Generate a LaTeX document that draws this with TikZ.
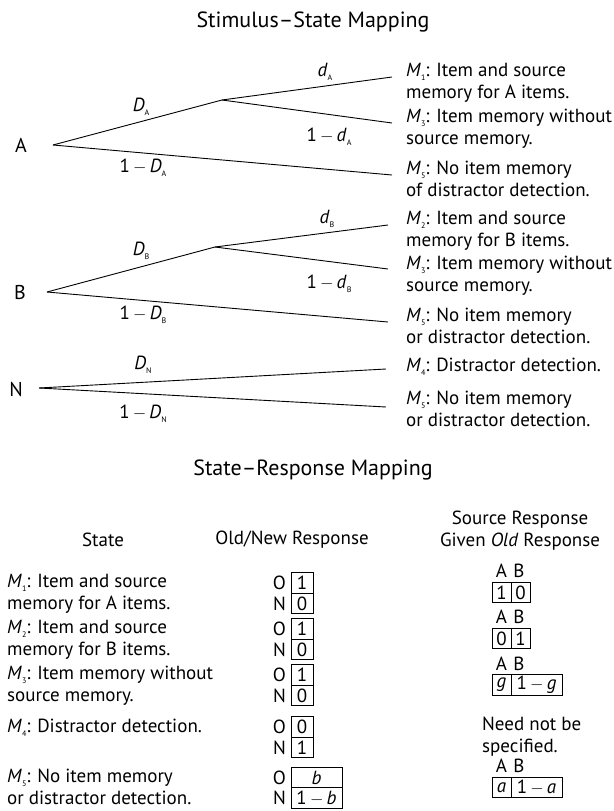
\documentclass[tikz,border=0pt]{standalone}
\usepackage{fontspec}
\setmainfont{PT Sans}
\usetikzlibrary{positioning}
\newcommand\St[1]{\textit{M}\raisebox{-0.4ex}{\fontsize{8}{8}\selectfont #1}}
\newcommand\Prb[2]{\textit{#1}\raisebox{-0.45ex}{\fontsize{8}{8}\selectfont #2}}
\newcommand\mn{\,$-$\,}
\begin{document}
\begin{tikzpicture}[x=1pt,y=-1pt,
  body/.style={font=\fontsize{19}{22}\selectfont, inner sep=0pt},
  desc/.style={body, align=left, anchor=west},
  head/.style={font=\fontsize{22}{26}\selectfont, inner sep=0pt},
  root/.style={font=\fontsize{20}{24}\selectfont, inner sep=0pt},
  branch/.style={line width=0.9pt},
  cell/.style={draw, line width=0.8pt, body, minimum height=20.5pt, minimum width=22pt, inner sep=0pt, outer sep=0pt},
  abcell/.style={cell, minimum width=19pt},
  tag/.style={body, anchor=east},
  colhead/.style={body, anchor=base}]
\useasboundingbox (0,0) rectangle (613,811);

% ---------- stimulus-state trees ----------
\node[head] (t1) at (313,22) {Stimulus–State Mapping};

% tree for A
\node[root] (A) at (21,145) {A};
\coordinate (ar) at (53,145);
\coordinate (ab) at (222,100);
\coordinate (a1) at (392,77);
\coordinate (a3) at (392,123);
\coordinate (a5) at (392,175);
\draw[branch] (ar) -- (ab) -- (a1);
\draw[branch] (ab) -- (a3);
\draw[branch] (ar) -- (a5);
\node[body] (lDA) at (141,107) {\Prb{D}{A}};
\node[body] (lda) at (325,72) {\Prb{d}{A}};
\node[body] (lnda) at (329,137) {1\mn\Prb{d}{A}};
\node[body] (lnDA) at (143,168) {1\mn\Prb{D}{A}};
\node[desc] (sa1) at (406,83) {\St{1}: Item and source\\memory for A items.};
\node[desc] (sa3) at (406,129) {\St{3}: Item memory without\\source memory.};
\node[desc] (sa5) at (406,179) {\St{5}: No item memory\\of distractor detection.};

% tree for B
\node[root] (B) at (20,292) {B};
\coordinate (br) at (47,292);
\coordinate (bb) at (215,247);
\coordinate (b2) at (388,225);
\coordinate (b3) at (388,269);
\coordinate (b5) at (388,322);
\draw[branch] (br) -- (bb) -- (b2);
\draw[branch] (bb) -- (b3);
\draw[branch] (br) -- (b5);
\node[body] (lDB) at (141,251) {\Prb{D}{B}};
\node[body] (ldb) at (327,219) {\Prb{d}{B}};
\node[body] (lndb) at (329,284) {1\mn\Prb{d}{B}};
\node[body] (lnDB) at (143,315) {1\mn\Prb{D}{B}};
\node[desc] (sb2) at (406,231) {\St{2}: Item and source\\memory for B items.};
\node[desc] (sb3) at (406,276) {\St{3}: Item memory without\\source memory.};
\node[desc] (sb5) at (406,326) {\St{5}: No item memory\\or distractor detection.};

% tree for N
\node[root] (N) at (16,389) {N};
\coordinate (nr) at (39,388);
\coordinate (n4) at (386,369);
\coordinate (n5) at (386,407);
\draw[branch] (nr) -- (n4);
\draw[branch] (nr) -- (n5);
\node[body] (lDN) at (143,365) {\Prb{D}{N}};
\node[body] (lnDN) at (143,414) {1\mn\Prb{D}{N}};
\node[desc] (sn4) at (406,367) {\St{4}: Distractor detection.};
\node[desc] (sn5) at (406,409) {\St{5}: No item memory\\or distractor detection.};

% ---------- state-response table ----------
\node[head] (t2) at (313,470) {State–Response Mapping};
\node[body] (hs) at (103,540) {State};
\node[body] (ho) at (292,540) {Old/New Response};
\node[body, align=center] (hr) at (520,531) {Source Response\\Given \textit{Old} Response};

\node[desc] (r1) at (7,594) {\St{1}: Item and source\\memory for A items.};
\node[desc] (r2) at (7,640) {\St{2}: Item and source\\memory for B items.};
\node[desc] (r3) at (7,686) {\St{3}: Item memory without\\source memory.};
\node[desc] (r4) at (7,728) {\St{4}: Distractor detection.};
\node[desc] (r5) at (7,787) {\St{5}: No item memory\\or distractor detection.};

% old/new response cells
\node[cell] (o1) at (302,583) {1};
\node[cell, below=0pt of o1] (n1) {0};
\node[cell] (o2) at (302,629) {1};
\node[cell, below=0pt of o2] (n2) {0};
\node[cell] (o3) at (302,675) {1};
\node[cell, below=0pt of o3] (n3) {0};
\node[cell] (o4) at (302,727) {0};
\node[cell, below=0pt of o4] (n4c) {1};
\node[cell, minimum width=51pt] (o5) at (316.5,777.5) {\textit{b}};
\node[cell, minimum width=51pt, below=0pt of o5] (n5c) {1\mn\textit{b}};
\foreach \c in {o1,o2,o3,o4,o5} \node[tag] at ([xshift=-5pt]\c.west) {O};
\foreach \c in {n1,n2,n3,n4c,n5c} \node[tag] at ([xshift=-5pt]\c.west) {N};

% source response cells
\node[abcell] (sa) at (501.5,592.5) {1};
\node[abcell, right=0pt of sa] (sb) {0};
\node[abcell] (ta) at (501.5,638.5) {0};
\node[abcell, right=0pt of ta] (tb) {1};
\node[abcell] (ua) at (501.5,685) {\textit{g}};
\node[abcell, minimum width=51pt, right=0pt of ua] (ub) {1\mn\textit{g}};
\node[desc] (nb) at (482,737) {Need not be\\specified.};
\node[abcell] (va) at (501.5,787.5) {\textit{a}};
\node[abcell, minimum width=51pt, right=0pt of va] (vb) {1\mn\textit{a}};
\foreach \c in {sa,ta,ua,va} {
  \node[colhead] at ([yshift=4.5pt]\c.north) {A};
  \node[colhead] at ([xshift=17.5pt,yshift=4.5pt]\c.north) {B};
}
\end{tikzpicture}
\end{document}
